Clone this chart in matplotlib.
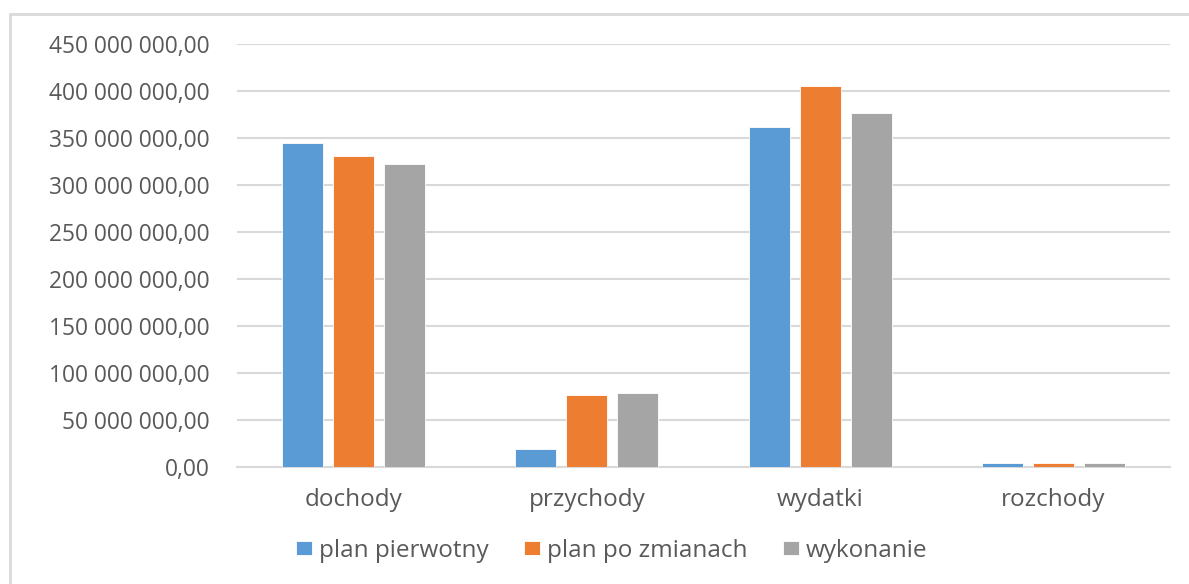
import numpy as np
import matplotlib.pyplot as plt
from matplotlib.patches import Rectangle
from matplotlib.ticker import FuncFormatter

categories = ['dochody', 'przychody', 'wydatki', 'rozchody']
series_names = ['plan pierwotny', 'plan po zmianach', 'wykonanie']
plan_pierwotny = [344.7e6, 18.8e6, 361.4e6, 4.0e6]
plan_po_zmianach = [330.9e6, 76.6e6, 405.3e6, 4.0e6]
wykonanie = [322.3e6, 79.0e6, 376.6e6, 4.0e6]
colors = ['#5B9BD5', '#ED7D31', '#A5A5A5']
text_color = '#595959'

plt.rcParams['font.family'] = ['Open Sans', 'DejaVu Sans']

W, H = 1189, 584
fig = plt.figure(figsize=(W / 100, H / 100), dpi=100)
ax = fig.add_axes([237 / W, 1 - 467 / H, (1170 - 237) / W, (467 - 44) / H])

# chart border (only top and left are visible in the crop)
fig.patches.append(Rectangle((10 / W, -0.1), 1.2, 1 - 14 / H + 0.1,
                             transform=fig.transFigure, fill=False,
                             edgecolor='#D9D9D9', linewidth=2))

x = np.arange(len(categories))
width = 0.176
step = 0.219
for i, (vals, name) in enumerate(zip([plan_pierwotny, plan_po_zmianach, wykonanie], series_names)):
    ax.bar(x + (i - 1) * step, vals, width, color=colors[i], label=name,
           edgecolor='white', linewidth=0.6, zorder=3)

ax.set_xlim(-0.5, len(categories) - 0.5)
ax.set_ylim(0, 450e6)
ax.set_yticks(np.arange(0, 450e6 + 1, 50e6))


def fmt(v, pos):
    if v == 0:
        return '0,00'
    return f'{int(v):,}'.replace(',', ' ') + ',00'


ax.yaxis.set_major_formatter(FuncFormatter(fmt))
ax.set_xticks(x)
ax.set_xticklabels(categories)
ax.tick_params(axis='both', length=0, colors=text_color)
ax.tick_params(axis='y', pad=19.5, labelsize=16.4)
ax.tick_params(axis='x', pad=15, labelsize=17.5)
ax.grid(axis='y', color='#D9D9D9', linewidth=1.5, zorder=0)
for s in ['top', 'right', 'left']:
    ax.spines[s].set_visible(False)
ax.spines['bottom'].set_color('#D9D9D9')
ax.spines['bottom'].set_linewidth(1.5)

leg = fig.legend(loc='center', bbox_to_anchor=(612 / W, 1 - 551 / H), ncol=3,
                 frameon=False, fontsize=17.5, handlelength=0.65, handleheight=0.5,
                 handletextpad=0.3, columnspacing=1.45)
for t in leg.get_texts():
    t.set_color(text_color)

fig.savefig('out.png', dpi=100)
